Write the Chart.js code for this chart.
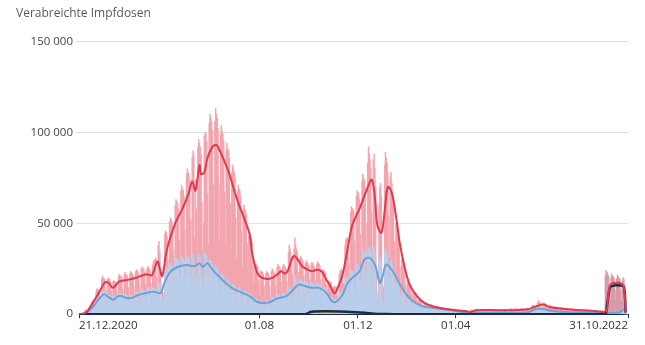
<!DOCTYPE html>
<html lang="de">
<head>
  <meta charset="UTF-8">
  <title>Verabreichte Impfdosen</title>
  <script src="https://cdn.jsdelivr.net/npm/chart.js"></script>
  <style>
    body { margin: 0; background: #fff; }
    .chart-box { position: relative; width: 645px; height: 345px; }
  </style>
</head>
<body>
  <div class="chart-box"><canvas id="impfChart"></canvas></div>

  <script>
    // Tag 0 = 21.12.2020 (Montag), Tag 679 = 31.10.2022
    const lastDay = 679;
    const tickDays = [0, 223, 345, 466, 679];
    const tickLabels = ['21.12.2020', '01.08', '01.12', '01.04', '31.10.2022'];
    const yTicks = [0, 50000, 100000, 150000];

    // ab diesem Tag: bivalente Auffrischimpfung (andere Balkenfarbe)
    const bivalentStart = 651;

    // Verabreichte Dosen pro Tag, in Tausend (eine Zeile = eine Woche Mo–So)
    const totalDoses = [
      0, 0, 0.3, 0.5, 0.3, 0.1, 0.1,
      1.8, 2.3, 2.4, 1.6, 1.2, 0.8, 0.5,
      4.5, 6, 7, 7.5, 7.5, 5, 3,
      12, 14, 13.5, 13.5, 13, 9, 5,
      19.5, 21, 20, 19.5, 19, 13, 7.5,
      19, 20, 19.5, 19, 18, 12.5, 7.5,
      18, 18.5, 18, 18, 17, 12, 7,
      21, 22, 21, 21, 20, 14, 8,
      21.5, 23, 22, 21.5, 20.5, 14.5, 8.5,
      22.5, 23.5, 23, 22, 21.5, 15, 9,
      23.5, 24.5, 24, 23.5, 22, 16, 9,
      25, 26, 25, 25, 23.5, 16.5, 9.5,
      25, 26.5, 25.5, 25, 24, 17, 10,
      27, 29, 30, 30, 31, 20, 12,
      38, 40, 34, 22, 7, 14, 5,
      12, 44, 46, 45, 43, 30, 16,
      51, 53, 52, 51, 49, 35, 20,
      60, 63, 62, 61, 58, 41, 23,
      68, 71, 69, 68, 65, 46, 26,
      77, 80, 78, 77, 74, 52, 30,
      86, 90, 88, 42, 74, 58, 32,
      92, 96, 94, 92, 88, 62, 35,
      50, 98, 100, 99, 95, 66, 38,
      105, 110, 108, 106, 101, 71, 40,
      106, 113, 110, 108, 102, 72, 41,
      99, 104, 101, 99, 95, 67, 38,
      90, 94, 91, 90, 86, 61, 35,
      78, 82, 80, 78, 75, 53, 30,
      68, 71, 69, 68, 65, 46, 26,
      58, 60, 58, 57, 55, 39, 22,
      43, 45, 43, 42, 40, 29, 17,
      27, 28, 27.5, 27, 26, 18.5, 10.5,
      23, 24, 23.5, 23, 22, 15.5, 9,
      22.5, 23.5, 23, 22.5, 21.5, 15, 8.5,
      23.5, 25, 24, 23.5, 22.5, 16, 9,
      26, 27.5, 26.5, 26, 25, 18, 10,
      26, 27.5, 26.5, 26, 25, 18, 10,
      34, 38, 36, 34, 32, 22, 12,
      36, 42, 38, 36, 34, 23, 13,
      30, 32, 31, 30, 29, 21, 12,
      28, 29.5, 28.5, 28, 27, 19, 11,
      27, 28.5, 28, 27, 26, 18.5, 10.5,
      27.5, 29, 28, 27.5, 26.5, 19, 11,
      23.5, 24.5, 24, 23.5, 22.5, 16, 9,
      17.5, 18.5, 18, 17.5, 17, 12, 7,
      15, 15.5, 15, 15, 14.5, 10, 6,
      22, 24, 24, 25, 24, 17, 10,
      38, 41, 42, 42, 40, 28, 16,
      56, 59, 58, 58, 56, 40, 23,
      65, 68, 67, 66, 63, 44, 26,
      73, 77, 75, 74, 70, 50, 29,
      83, 92, 88, 85, 80, 56, 32,
      85, 88, 80, 70, 25, 8, 12,
      60, 70, 72, 65, 20, 10, 15,
      82, 89, 86, 83, 78, 54, 31,
      75, 78, 72, 66, 60, 40, 22,
      50, 50, 46, 42, 38, 26, 14,
      30, 30, 28, 26, 24, 16, 9,
      18.5, 19, 18, 17, 16, 10.5, 6,
      12.5, 12.5, 12, 11.5, 11, 7.5, 4.5,
      8.5, 8.5, 8.2, 8, 7.5, 5, 3,
      6.5, 6.5, 6.2, 6, 5.7, 3.8, 2.3,
      5.2, 5.3, 5.1, 5, 4.7, 3.1, 1.9,
      4.3, 4.4, 4.2, 4.1, 3.9, 2.6, 1.5,
      3.6, 3.7, 3.5, 3.4, 3.3, 2.1, 1.3,
      3.1, 3.2, 3.1, 3, 2.9, 1.9, 1.1,
      2.7, 2.8, 2.6, 2.6, 2.5, 1.6, 0.9,
      2.3, 2.4, 2.3, 2.2, 2.1, 1.4, 0.8,
      2.1, 2.2, 2.1, 1.9, 0.4, 0.8, 0.2,
      0.4, 2.2, 2.3, 2.2, 2.1, 1.4, 0.7,
      2.7, 2.8, 2.7, 2.6, 2.5, 1.6, 0.9,
      2.6, 2.7, 2.6, 2.6, 2.5, 1.6, 0.9,
      2.6, 2.7, 2.6, 2.5, 2.5, 1.6, 0.9,
      2.6, 2.7, 2.7, 2.6, 2.4, 1.6, 0.9,
      2.6, 2.7, 2.6, 0.6, 1.8, 1.5, 0.8,
      2.7, 2.8, 2.7, 2.7, 2.6, 1.7, 1,
      0.8, 3, 3, 2.9, 2.8, 1.8, 1,
      2.9, 3.1, 3, 3, 2.8, 1.9, 1.1,
      3, 3.2, 3.1, 3.1, 2.9, 2, 1.1,
      3.3, 3.4, 3.3, 3.2, 3.1, 2.1, 1.2,
      4.5, 5, 4.8, 4.7, 4.5, 3, 1.7,
      6, 7.5, 6.8, 6.5, 5.8, 3.5, 2,
      5.8, 6.2, 5.8, 5.5, 5.1, 3.4, 1.9,
      4.6, 4.8, 4.6, 4.5, 4.3, 2.8, 1.6,
      3.9, 4.1, 3.9, 3.8, 3.6, 2.4, 1.4,
      3.5, 3.7, 3.5, 3.4, 3.3, 2.2, 1.2,
      3, 3.2, 3.1, 3, 2.8, 1.9, 1.1,
      2.8, 2.9, 2.8, 2.7, 2.6, 1.8, 1,
      2.6, 2.7, 2.6, 2.5, 2.4, 1.6, 0.9,
      2.3, 2.4, 2.3, 2.3, 2.2, 1.5, 0.8,
      2.1, 2.2, 2.1, 2, 2, 1.3, 0.7,
      1.9, 1.9, 1.9, 1.8, 1.7, 1.2, 0.7,
      1.9, 1.9, 1.9, 1.8, 1.7, 1.2, 0.7,
      21, 24, 23, 22, 21, 15, 8,
      20, 22, 21, 20.5, 19.5, 13.5, 7.5,
      19.5, 21.5, 20.5, 20, 19, 13, 7,
      18, 20, 19, 16, 0, 0, 0,
      0
    ];

    // Teilmenge (hellblaue Balken), in Tausend
    const subsetDoses = [
      0, 0, 0.2, 0.3, 0.1, 0.1, 0.05,
      1.2, 1.5, 1.6, 1.1, 0.8, 0.5, 0.3,
      3, 4, 4.7, 5, 5, 3.3, 2,
      8.5, 9.5, 9.5, 9.5, 9, 6.3, 3.6,
      12.5, 13.2, 13, 12.6, 12, 8.6, 5,
      10.6, 11, 10.8, 10.6, 10, 7.2, 4.1,
      9.5, 10, 9.7, 9.5, 9.1, 6.5, 3.7,
      11.5, 12, 11.7, 11.5, 11, 7.8, 4.5,
      10.4, 10.8, 10.5, 10.4, 9.9, 7, 4,
      10.4, 10.7, 10.5, 10.3, 9.9, 7, 4,
      12, 12.5, 12.2, 12, 11.4, 8.1, 4.7,
      13, 13.6, 13.2, 13, 12.4, 8.8, 5.1,
      13.8, 14.4, 14, 13.8, 13.2, 9.4, 5.4,
      14.1, 14.8, 14.4, 14.1, 13.5, 9.6, 5.5,
      16, 17, 15, 12, 4, 8, 3,
      8, 25, 26, 26, 25, 17, 9,
      27, 28, 27.5, 27, 26, 18.3, 10.6,
      30, 31, 30.5, 30, 28.5, 20, 11.7,
      30.5, 32, 31, 30.5, 29, 21, 12,
      31, 32.5, 31.5, 31, 29.5, 21, 12,
      32, 33, 32.5, 15, 27, 21, 12,
      31.5, 33, 32, 31.5, 30, 21.5, 12.4,
      17, 34, 34, 33, 32, 22, 12.5,
      29, 30, 29, 29, 27.5, 19.5, 11,
      25, 26.5, 26, 25, 24, 17, 10,
      21.5, 22.3, 21.8, 21.4, 20.5, 14.5, 8.4,
      18.4, 19.2, 18.7, 18.4, 17.6, 12.5, 7.2,
      15.9, 16.6, 16.1, 15.9, 15.2, 10.8, 6.2,
      14.1, 14.8, 14.4, 14.1, 13.5, 9.6, 5.5,
      12.6, 13.2, 12.9, 12.6, 12.1, 8.6, 5,
      10.8, 11.3, 11, 10.8, 10.3, 7.3, 4.2,
      8.2, 8.5, 8.3, 8.2, 7.8, 5.5, 3.2,
      7.1, 7.4, 7.3, 7.1, 6.8, 4.8, 2.8,
      7.4, 7.7, 7.5, 7.4, 7, 5, 2.9,
      9, 9.4, 9.1, 9, 8.6, 6.1, 3.5,
      10.4, 10.8, 10.5, 10.4, 9.9, 7, 4,
      11.3, 11.8, 11.5, 11.3, 10.8, 7.6, 4.4,
      14, 15.5, 14.7, 14, 13.2, 9.2, 5.2,
      18, 21, 19, 18, 17, 11.5, 6.5,
      18.4, 19.2, 18.7, 18.4, 17.6, 12.5, 7.2,
      17.3, 18, 17.6, 17.3, 16.5, 11.7, 6.8,
      16.7, 17.4, 17, 16.7, 16, 11.3, 6.5,
      16.7, 17.3, 17, 16.6, 16, 11.2, 6.5,
      14.4, 15, 14.6, 14.4, 13.8, 9.8, 5.6,
      9.5, 10, 9.7, 9.5, 9.1, 6.5, 3.7,
      8.2, 8.5, 8.3, 8.2, 7.8, 5.5, 3.2,
      11, 12, 12, 12.5, 12, 8.5, 5,
      18.5, 20, 20, 20, 19.5, 13.5, 7.7,
      23.3, 24.4, 23.8, 23.3, 22.3, 15.8, 9.1,
      26.8, 28, 27.3, 26.8, 25.6, 18.2, 10.5,
      34.5, 36, 35, 34.5, 33, 23.4, 13.5,
      35, 37, 36, 35, 33.5, 23.8, 13.8,
      36, 37, 34, 30, 10, 3, 5,
      26, 30, 31, 28, 8, 4, 6,
      33, 36, 35, 33, 31, 21, 12,
      29, 30, 28, 26, 23, 16, 9,
      20, 20, 18.5, 17, 15.5, 10.5, 6,
      13, 13, 12, 11.5, 10.5, 7, 4,
      9, 9, 8.6, 8.2, 7.8, 5.1, 3,
      6.5, 6.5, 6.2, 6, 5.7, 3.8, 2.2,
      5, 5, 4.8, 4.6, 4.4, 2.9, 1.7,
      4.2, 4.2, 4, 3.9, 3.7, 2.4, 1.4,
      3.8, 3.9, 3.7, 3.6, 3.4, 2.3, 1.3,
      3.4, 3.5, 3.3, 3.2, 3.1, 2, 1.2,
      3, 3.1, 2.9, 2.8, 2.7, 1.8, 1,
      2.8, 2.9, 2.8, 2.7, 2.6, 1.8, 1,
      2.1, 2.2, 2.1, 2, 1.9, 1.3, 0.7,
      1.5, 1.6, 1.5, 1.5, 1.4, 1, 0.6,
      1.2, 1.3, 1.2, 1.1, 0.3, 0.5, 0.1,
      0.2, 1.1, 1.1, 1, 1, 0.7, 0.4,
      1, 1.1, 1, 1, 1, 0.7, 0.4,
      1, 1.1, 1, 1, 0.9, 0.7, 0.4,
      1, 1, 1, 1, 0.9, 0.6, 0.4,
      1, 1.1, 1, 0.9, 0.9, 0.6, 0.4,
      1, 1, 1, 0.3, 0.7, 0.6, 0.3,
      1, 1.1, 1, 1, 0.9, 0.6, 0.4,
      0.3, 1.1, 1.1, 1, 1, 0.7, 0.4,
      1, 1.1, 1, 1, 1, 0.7, 0.4,
      1.1, 1.1, 1.1, 1, 1, 0.7, 0.4,
      1.3, 1.4, 1.3, 1.3, 1.2, 0.8, 0.5,
      2.9, 3.1, 3, 2.9, 2.8, 1.9, 1.1,
      3.3, 3.6, 3.4, 3.3, 3.2, 2.2, 1.3,
      3, 3.2, 3, 3, 2.8, 2, 1.2,
      2.3, 2.4, 2.3, 2.3, 2.2, 1.5, 0.9,
      1.7, 1.8, 1.8, 1.7, 1.6, 1.1, 0.7,
      1.4, 1.4, 1.4, 1.4, 1.3, 0.9, 0.5,
      1, 1.1, 1, 1, 1, 0.7, 0.4,
      1, 1.1, 1, 1, 1, 0.7, 0.4,
      1, 1, 1, 1, 0.9, 0.7, 0.4,
      1, 1.1, 1, 1, 0.9, 0.6, 0.4,
      1, 1, 1, 0.9, 0.9, 0.6, 0.4,
      0.9, 1, 1, 0.9, 0.9, 0.6, 0.4,
      0.9, 1, 0.9, 0.9, 0.9, 0.6, 0.4,
      0.9, 1, 0.9, 0.9, 0.9, 0.6, 0.4,
      0.9, 1, 0.9, 0.9, 0.8, 0.6, 0.4,
      0.9, 1, 0.9, 0.9, 0.8, 0.6, 0.3,
      3, 3.5, 4, 3.5, 0, 0, 0,
      0
    ];

    // gelbe Balken (Herbst 2021), ab Tag 280, in Tausend
    const otherStart = 280;
    const otherDoses = [
      0.2, 0.4, 0.7, 0.9, 1.1, 0.7, 0.3,
      1.5, 1.7, 1.7, 1.6, 1.6, 1.0, 0.5,
      1.8, 1.9, 1.9, 1.8, 1.7, 1.1, 0.6,
      1.8, 1.9, 1.8, 1.8, 1.7, 1.1, 0.6,
      1.7, 1.8, 1.8, 1.7, 1.6, 1.1, 0.6,
      1.6, 1.7, 1.7, 1.6, 1.5, 1.0, 0.5,
      1.5, 1.6, 1.6, 1.5, 1.4, 0.9, 0.5,
      1.3, 1.4, 1.4, 1.3, 1.2, 0.8, 0.4,
      1.1, 1.2, 1.2, 1.1, 1.0, 0.7, 0.4,
      0.9, 1.0, 1.0, 0.9, 0.8, 0.5, 0.3
    ];

    // 7-Tage-Mittel (Tag, Tausend)
    const totalAvgDays = [0, 5, 10, 16, 25, 32, 37, 42, 50, 62, 71, 83, 90, 97, 100, 103, 109, 120, 128, 136, 140, 144, 149, 151, 155, 159, 165, 170, 173, 180, 186, 192, 198, 204, 211, 214, 219, 223, 232, 239, 245, 250, 254, 258, 263, 266, 270, 276, 283, 289, 294, 300, 306, 312, 316, 320, 326, 332, 338, 347, 356, 362, 366, 369, 374, 378, 382, 387, 393, 397, 403, 409, 418, 427, 437, 458, 480, 483, 492, 520, 554, 566, 574, 582, 595, 620, 641, 652, 654, 657, 663, 669, 673, 675, 676];
    const totalAvg = [0, 0.2, 1.5, 5.5, 12, 17.5, 17, 14.5, 18, 19, 20, 22, 21.4, 29, 25, 21, 36, 51, 58, 67, 73, 68, 82, 77, 78, 86, 92, 93, 91, 84, 77, 68, 60, 53, 44, 34, 24.5, 21, 19.4, 20, 21.8, 23.6, 22.4, 23.6, 30, 32.2, 30.4, 26.4, 24.5, 23.6, 24.5, 23.6, 19, 14.5, 11.4, 14.5, 21.8, 35.5, 49, 58, 68.5, 74, 64, 49, 44.7, 56.6, 70, 66.7, 51, 38.3, 25.4, 16.3, 9.9, 6.2, 4.4, 2.6, 1.6, 1.1, 2.2, 2.2, 2.6, 4.4, 5.3, 4, 3.1, 2.2, 1.6, 1.6, 8, 16.3, 17.2, 17.2, 16, 10, 1];

    const subsetAvgDays = [0, 10, 16, 25, 31, 37, 42, 50, 58, 66, 72, 83, 93, 101, 105, 112, 121, 133, 143, 149, 153, 159, 165, 177, 189, 202, 211, 219, 227, 235, 244, 256, 263, 272, 280, 289, 297, 306, 313, 319, 326, 332, 338, 347, 353, 359, 366, 372, 375, 380, 388, 397, 405, 413, 425, 437, 458, 480, 520, 554, 566, 574, 582, 600, 640, 668, 672, 675, 676];
    const subsetAvg = [0, 1, 3.5, 8.5, 11, 9.3, 8, 10.2, 9, 9, 10.4, 11.7, 12.3, 11.7, 16.5, 22.7, 25.8, 27, 26.4, 28, 26, 28, 24.5, 19, 14.5, 11.7, 9.9, 7.1, 6.2, 6.5, 8.4, 9.9, 12.6, 16.3, 15.4, 14.5, 14.5, 11.7, 7.1, 7.1, 10.8, 17, 20, 23.6, 30, 31, 27.3, 17.2, 20, 27.3, 23.6, 16.3, 10.8, 7.1, 4.4, 3.5, 2.4, 1, 0.8, 1, 2.9, 2.9, 2, 1.2, 0.8, 0.8, 2, 3.2, 0.5];

    const otherAvgDays = [0, 280, 282, 286, 290, 322, 343, 355, 365, 380, 395, 650, 653, 655, 657, 662, 670, 673, 675, 676];
    const otherAvg = [0, 0, 0.3, 1.2, 1.5, 1.5, 1.1, 0.7, 0.3, 0.1, 0, 0, 5, 11, 15, 15.8, 15.8, 15.4, 12, 1];

    const pink = '#f2a5ae';
    const mauve = '#d89aa7';
    const lightBlue = '#b8cfeb';

    function bars(values, offset) {
      return values.map((v, i) => ({ x: i + offset, y: v * 1000 }));
    }
    function points(days, values) {
      return days.map((d, i) => ({ x: d, y: values[i] * 1000 }));
    }
    function formatThousands(v) {
      return String(v).replace(/\B(?=(\d{3})+(?!\d))/g, ' ');
    }

    Chart.defaults.font.family = '"Open Sans", "DejaVu Sans", sans-serif';

    const ctx = document.getElementById('impfChart').getContext('2d');
    new Chart(ctx, {
      type: 'bar',
      data: {
        datasets: [
          {
            type: 'line',
            data: points(totalAvgDays, totalAvg),
            borderColor: '#e03a4f',
            borderWidth: 2,
            pointRadius: 0,
            tension: 0.35,
            order: 0
          },
          {
            type: 'line',
            data: points(otherAvgDays, otherAvg),
            borderColor: '#1c2a48',
            borderWidth: 2.5,
            pointRadius: 0,
            tension: 0.3,
            order: 1
          },
          {
            type: 'line',
            data: points(subsetAvgDays, subsetAvg),
            borderColor: '#6da2d8',
            borderWidth: 2,
            pointRadius: 0,
            tension: 0.35,
            order: 2
          },
          {
            data: bars(otherDoses, otherStart),
            backgroundColor: '#f3c45a',
            grouped: false,
            barPercentage: 1,
            categoryPercentage: 1,
            order: 5
          },
          {
            data: bars(subsetDoses, 0),
            backgroundColor: lightBlue,
            grouped: false,
            barPercentage: 1,
            categoryPercentage: 1,
            order: 6
          },
          {
            data: bars(totalDoses, 0),
            backgroundColor: c => c.dataIndex >= bivalentStart ? mauve : pink,
            grouped: false,
            barPercentage: 1,
            categoryPercentage: 1,
            order: 7
          }
        ]
      },
      options: {
        responsive: true,
        maintainAspectRatio: false,
        animation: false,
        events: [],
        layout: {
          padding: { left: 16, right: 17, top: 0, bottom: 11 }
        },
        plugins: {
          legend: { display: false },
          tooltip: { enabled: false },
          title: {
            display: true,
            text: 'Verabreichte Impfdosen',
            align: 'start',
            color: '#5a5a5a',
            font: { size: 12, weight: 'normal' },
            padding: { top: 6, bottom: 21 }
          }
        },
        scales: {
          x: {
            type: 'linear',
            min: 0,
            max: lastDay,
            offset: false,
            afterBuildTicks: axis => {
              axis.ticks = tickDays.map(d => ({ value: d }));
            },
            ticks: {
              autoSkip: false,
              maxRotation: 0,
              align: 'inner',
              padding: 1,
              color: '#333',
              font: { size: 11.5 },
              callback: value => tickLabels[tickDays.indexOf(value)] || ''
            },
            grid: {
              offset: false,
              drawOnChartArea: false,
              drawTicks: true,
              tickLength: 4,
              tickColor: '#333'
            },
            border: { color: '#1c2a48', width: 1 }
          },
          y: {
            min: 0,
            max: 150000,
            afterBuildTicks: axis => {
              axis.ticks = yTicks.map(v => ({ value: v }));
            },
            afterFit: scale => { scale.width = 63; },
            ticks: {
              padding: 3,
              color: '#444',
              font: { size: 11.5 },
              callback: value => formatThousands(value)
            },
            grid: {
              color: '#e0e0e0',
              tickLength: 3
            },
            border: { display: false }
          }
        }
      }
    });
  </script>
</body>
</html>
